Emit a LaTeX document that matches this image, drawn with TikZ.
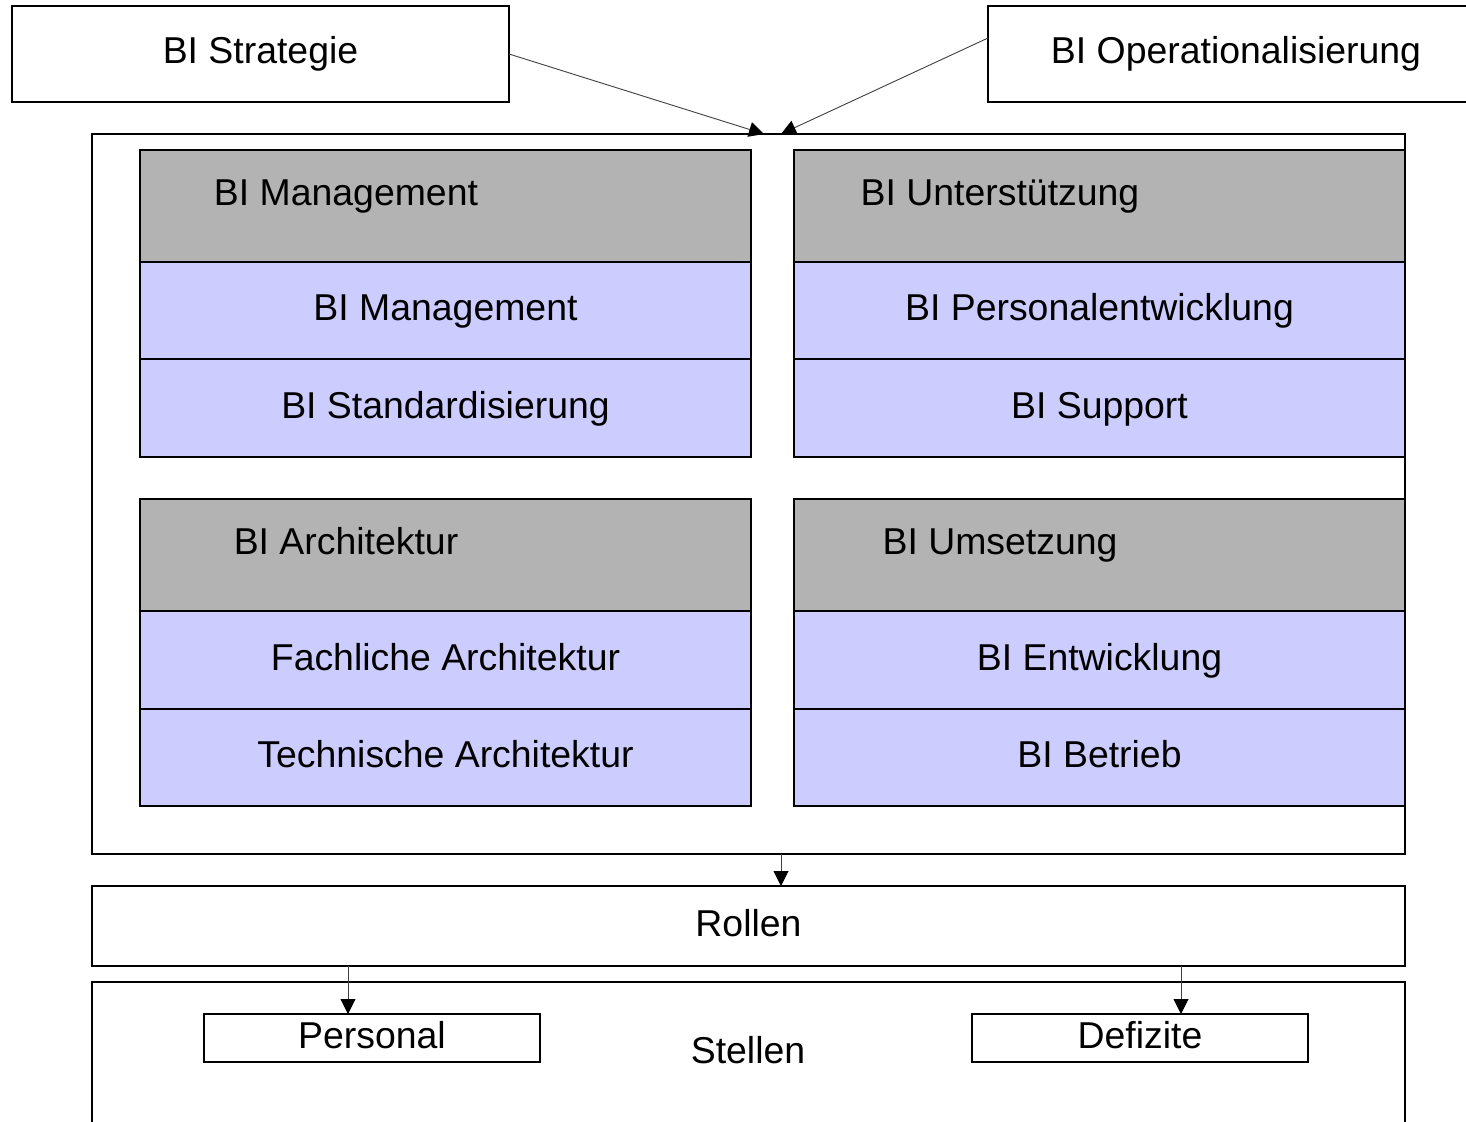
\documentclass[tikz,border=0pt]{standalone}
\usepackage{fontspec}
\setmainfont{Liberation Sans}
\usetikzlibrary{arrows.meta}
\definecolor{headgray}{HTML}{B3B3B3}
\definecolor{rowblue}{HTML}{CCCCFF}
\begin{document}
\begin{tikzpicture}[x=1pt,y=-1pt,
  txt/.style={font=\fontsize{37.4}{44}\selectfont},
  box/.style={draw=black,line width=1.2pt,inner sep=0pt,outer sep=0pt,
    anchor=north west,txt,text height=26pt,text depth=6pt},
  head/.style={box,fill=headgray},
  row/.style={box,fill=rowblue},
  title/.style={txt,anchor=base,inner sep=0pt},
  arr/.style={draw=black!75,line width=0.9pt,
    -{Triangle[length=15pt,width=15pt,color=black]}}]
\path[use as bounding box,clip] (0,0) rectangle (1466,1121);
\fill[white] (0,0) rectangle (1466,1121);

% inputs
\node[box,minimum width=497pt,minimum height=96pt] (strat) at (12,6) {BI Strategie};
\node[box,minimum width=496pt,minimum height=96pt] (oper) at (988,6) {BI Operationalisierung};

% container of the four areas
\node[box,minimum width=1313pt,minimum height=720pt] (cont) at (92,134) {};

% BI Management
\node[head,minimum width=611pt,minimum height=112pt] (hMan) at (140,150) {};
\node[title] (tMan) at (346,205) {BI Management};
\node[row,minimum width=611pt,minimum height=97pt] (rMan) at (140,262) {BI Management};
\node[row,minimum width=611pt,minimum height=98pt] (rStd) at (140,359) {BI Standardisierung};

% BI Unterstuetzung
\node[head,minimum width=611pt,minimum height=112pt] (hUnt) at (794,150) {};
\node[title] (tUnt) at (1000,205) {BI Unterstützung};
\node[row,minimum width=611pt,minimum height=97pt] (rPer) at (794,262) {BI Personalentwicklung};
\node[row,minimum width=611pt,minimum height=98pt] (rSup) at (794,359) {BI Support};

% BI Architektur
\node[head,minimum width=611pt,minimum height=112pt] (hArc) at (140,499) {};
\node[title] (tArc) at (346,554) {BI Architektur};
\node[row,minimum width=611pt,minimum height=98pt] (rFach) at (140,611) {Fachliche Architektur};
\node[row,minimum width=611pt,minimum height=97pt] (rTech) at (140,709) {Technische Architektur};

% BI Umsetzung
\node[head,minimum width=611pt,minimum height=112pt] (hUms) at (794,499) {};
\node[title] (tUms) at (1000,554) {BI Umsetzung};
\node[row,minimum width=611pt,minimum height=98pt] (rEnt) at (794,611) {BI Entwicklung};
\node[row,minimum width=611pt,minimum height=97pt] (rBet) at (794,709) {BI Betrieb};

% roles and positions
\node[box,minimum width=1313pt,minimum height=80pt] (rollen) at (92,886) {Rollen};
\node[box,minimum width=1313pt,minimum height=170pt] (stellen) at (92,982) {};
\node[title] (tStellen) at (748,1063) {Stellen};
\node[box,minimum width=336pt,minimum height=48pt] (personal) at (204,1014) {Personal};
\node[box,minimum width=336pt,minimum height=48pt] (defizite) at (972,1014) {Defizite};

% connectors
\coordinate (sOut) at (509,54);
\coordinate (oOut) at (988,38);
\coordinate (inL) at (764,134);
\coordinate (inR) at (781,134);
\draw[arr] (sOut) -- (inL);
\draw[arr] (oOut) -- (inR);
\draw[arr] (cont.south -| inR) -- (rollen.north -| inR);
\coordinate (pX) at (348,0);
\coordinate (dX) at (1181,0);
\draw[arr] (rollen.south -| pX) -- (personal.north -| pX);
\draw[arr] (rollen.south -| dX) -- (defizite.north -| dX);
\end{tikzpicture}
\end{document}
